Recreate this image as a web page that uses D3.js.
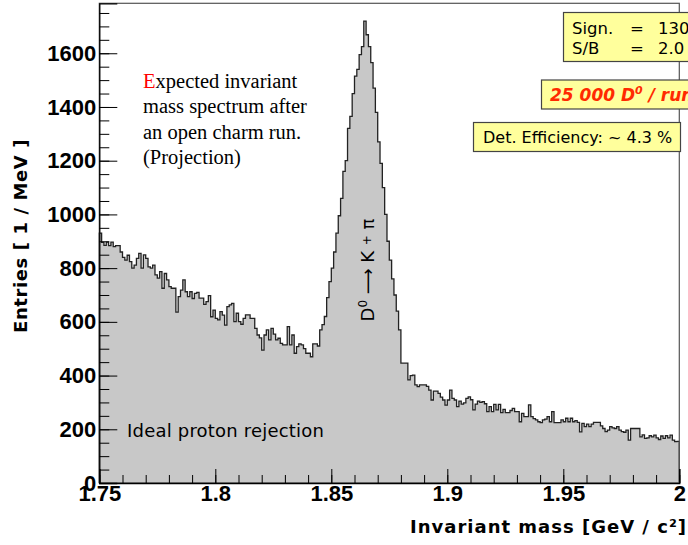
<!DOCTYPE html>
<html>
<head>
<meta charset="utf-8">
<script src="https://cdn.jsdelivr.net/npm/d3@7"></script>
<style>
  html, body { margin: 0; padding: 0; background: #fff; }
  svg { display: block; }
  .tick-label { font-family: "Liberation Sans", Arial, sans-serif; font-weight: bold; font-size: 22px; fill: #000; }
  .comic { font-family: "Comic Sans MS", "DejaVu Sans", sans-serif; }
</style>
</head>
<body>
<svg id="chart" width="688" height="545"></svg>
<script>
// histogram: 250 bins of 1 MeV from 1.75 to 2.0 GeV
const massRange = [1.75, 2.0];
const counts = [
  930, 896, 885, 897, 884, 897, 880, 884, 884, 860,
  840, 830, 848, 824, 800, 811, 836, 855, 800, 849,
  836, 805, 800, 811, 775, 763, 787, 725, 780, 756,
  731, 725, 725, 636, 694, 718, 756, 712, 694, 712,
  687, 706, 710,
  688, 688, 665, 675, 698, 619, 644, 613, 607, 638,
  625, 588, 657, 663, 669, 601, 632, 601, 591, 613,
  626, 626, 613, 613, 576, 551, 540, 495, 551, 570,
  533, 576, 554, 533, 539, 520, 514, 514, 582, 514,
  551, 483, 508,
  518, 514, 500, 483, 483, 470, 518, 518, 510, 570,
  590, 620, 690, 750, 800, 860, 930, 995, 1060, 1160,
  1200, 1320, 1365, 1450, 1515, 1540, 1595, 1625, 1720, 1669,
  1625, 1565, 1470, 1380, 1270, 1190, 1100, 1000, 900, 830,
  760, 700, 640, 570,
  446, 446, 446, 384, 400, 402, 365, 359, 365, 365,
  365, 360, 346, 309, 342, 342, 334, 320, 309, 290,
  309, 346, 315, 309, 284, 305, 294, 298, 315, 321,
  310, 272, 294, 305,
  300, 303, 295, 266, 284, 266, 293, 272, 293, 262,
  274, 262, 262, 270, 278, 266, 266, 228, 259, 247,
  247, 291, 247, 240, 235, 228, 225, 235, 238, 247,
  228, 266, 225, 225, 225, 235, 228, 241, 228, 241,
  228,
  232, 226, 190, 222, 210, 219, 210, 219, 226, 226,
  226, 213, 203, 191, 197, 210, 205, 203, 210, 197,
  191, 189, 197, 160, 203, 203, 203, 203, 172, 179,
  166, 168, 176, 172, 178, 168, 162, 175, 166, 176,
  168, 178, 160, 154, 155
];
const yMax = 1786;
const xMajorTicks = [1.75, 1.8, 1.85, 1.9, 1.95, 2.0];
const xTickLabels = ["1.75", "1.8", "1.85", "1.9", "1.95", "2"];
const yMajorTicks = [0, 200, 400, 600, 800, 1000, 1200, 1400, 1600];

const descLines = ["xpected invariant", "mass spectrum after", "an open charm run.", "(Projection)"];
const statLines = [["Sign.", "=", "130"], ["S/B", "=", "2.0"]];

const svg = d3.select("#chart");
const plotLeft = 99.3, plotRight = 679.3, plotTop = 3.3, plotBottom = 483;

const x = d3.scaleLinear().domain(massRange).range([plotLeft, plotRight]);
const y = d3.scaleLinear().domain([0, yMax]).range([plotBottom, plotTop]);

const binWidth = (massRange[1] - massRange[0]) / counts.length;
const pts = counts.map((v, i) => [massRange[0] + i * binWidth, v]);
pts.push([massRange[1], counts[counts.length - 1]]);

const area = d3.area()
    .x(d => x(d[0]))
    .y0(y(0))
    .y1(d => y(d[1]))
    .curve(d3.curveStepAfter);

svg.append("path")
    .datum(pts)
    .attr("d", area)
    .attr("fill", "#c8c8c8");

const outline = d3.line()
    .x(d => x(d[0]))
    .y(d => y(d[1]))
    .curve(d3.curveStepAfter);

svg.append("path")
    .datum([[massRange[0], 0], ...pts, [massRange[1], 0]])
    .attr("d", outline)
    .attr("fill", "none")
    .attr("stroke", "#222")
    .attr("stroke-width", 1.3);

// frame
svg.append("rect")
    .attr("x", plotLeft).attr("y", plotTop)
    .attr("width", plotRight - plotLeft).attr("height", plotBottom - plotTop)
    .attr("fill", "none").attr("stroke", "#555").attr("stroke-width", 1.2);

// x axis: minor + major ticks pointing into the plot
const xMinor = d3.axisBottom(x)
    .tickValues(d3.range(0, 26).map(i => massRange[0] + i * 0.01))
    .tickSize(-8).tickFormat("");
svg.append("g").attr("transform", `translate(0,${plotBottom})`).call(xMinor)
    .call(g => g.select(".domain").remove());

const xAxis = d3.axisBottom(x)
    .tickValues(xMajorTicks)
    .tickSize(-14)
    .tickPadding(2)
    .tickFormat((d, i) => xTickLabels[i]);
const gx = svg.append("g").attr("transform", `translate(0,${plotBottom})`).call(xAxis);
gx.selectAll("text").attr("class", "tick-label").attr("font-size", null).attr("font-family", null);

// y axis
const yMinor = d3.axisLeft(y)
    .tickValues(d3.range(0, 1751, 50))
    .tickSize(-10).tickFormat("");
svg.append("g").attr("transform", `translate(${plotLeft},0)`).call(yMinor)
    .call(g => g.select(".domain").remove());

const yAxis = d3.axisLeft(y)
    .tickValues(yMajorTicks)
    .tickSize(-18)
    .tickPadding(3)
    .tickFormat(d3.format("d"));
const gy = svg.append("g").attr("transform", `translate(${plotLeft},0)`).call(yAxis);
gy.selectAll("text").attr("class", "tick-label").attr("font-size", null).attr("font-family", null);

svg.selectAll(".domain").attr("stroke", "#000").attr("stroke-width", 1.3);
svg.selectAll(".tick line").attr("stroke", "#000");

// axis titles
svg.append("text")
    .attr("class", "comic")
    .attr("transform", "translate(27,236) rotate(-90)")
    .attr("text-anchor", "middle")
    .attr("font-weight", "bold")
    .attr("font-size", 18)
    .attr("letter-spacing", 0.6)
    .text("Entries [ 1 / MeV ]");

svg.append("text")
    .attr("class", "comic")
    .attr("x", 687).attr("y", 533)
    .attr("text-anchor", "end")
    .attr("font-weight", "bold")
    .attr("font-size", 18)
    .attr("letter-spacing", 1)
    .text("Invariant mass [GeV / c²]");

// description (serif)
const desc = svg.append("text")
    .attr("font-family", "'Liberation Serif', 'Times New Roman', serif")
    .attr("font-size", 20.5)
    .attr("fill", "#000");
descLines.forEach((line, i) => {
    const t = desc.append("tspan").attr("x", 143).attr("y", 88 + i * 25.3);
    if (i === 0) t.append("tspan").attr("fill", "#ff0000").text("E");
    t.append("tspan").text(line);
});

svg.append("text")
    .attr("class", "comic")
    .attr("x", 127).attr("y", 437)
    .attr("font-size", 18)
    .attr("letter-spacing", 0.2)
    .text("Ideal proton rejection");

// decay label along the peak
const decay = svg.append("text")
    .attr("class", "comic")
    .attr("transform", "translate(374,270) rotate(-90)")
    .attr("text-anchor", "middle")
    .attr("font-size", 18);
decay.append("tspan").text("D");
decay.append("tspan").attr("font-size", 12).attr("dy", -7).text("0");
decay.append("tspan").attr("dy", 7).text(" \u27F6 K ");
decay.append("tspan").attr("font-size", 12).attr("dy", -3).text("+");
decay.append("tspan").attr("dy", 3).text(" \u03C0");

// boxes
function pave(x0, y0, w, h) {
    svg.append("rect")
        .attr("x", x0).attr("y", y0).attr("width", w).attr("height", h)
        .attr("fill", "#ffff9c").attr("stroke", "#444").attr("stroke-width", 1.2);
}

pave(563.5, 12.5, 140, 49);
statLines.forEach((row, i) => {
    const yy = 33.5 + i * 20;
    [572, 630, 658].forEach((xx, j) => {
        svg.append("text").attr("class", "comic")
            .attr("x", xx).attr("y", yy)
            .attr("font-size", 16.5)
            .text(row[j]);
    });
});

pave(541.5, 80, 160, 29);
const runText = svg.append("text").attr("class", "comic")
    .attr("x", 550).attr("y", 101)
    .attr("font-size", 17)
    .attr("font-weight", "bold")
    .attr("font-style", "italic")
    .attr("fill", "#ff2a00");
runText.append("tspan").text("25 000 D");
runText.append("tspan").attr("font-size", 11).attr("dy", -7).text("0");
runText.append("tspan").attr("dy", 7).text(" / run");

pave(473.5, 122.5, 207, 29);
svg.append("text").attr("class", "comic")
    .attr("x", 483).attr("y", 143)
    .attr("font-size", 16)
    .text("Det. Efficiency: ~ 4.3 %");
</script>
</body>
</html>
